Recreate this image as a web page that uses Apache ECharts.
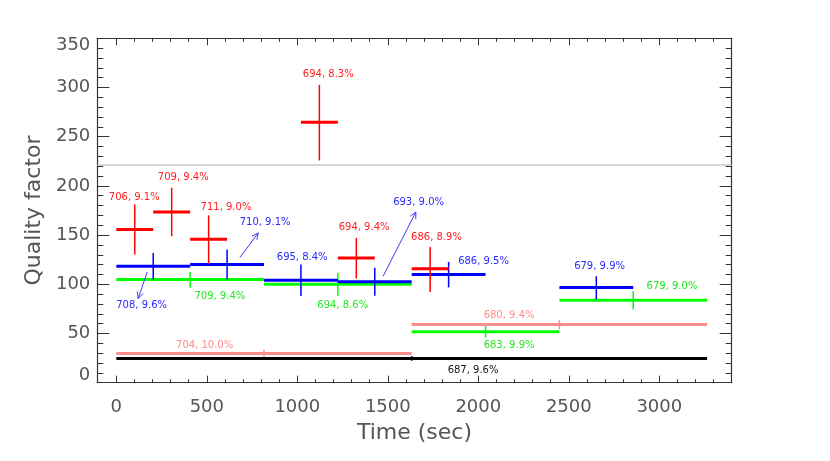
<!DOCTYPE html>
<html>
<head>
<meta charset="utf-8">
<script src="https://cdn.jsdelivr.net/npm/echarts@6/dist/echarts.min.js"></script>
<style>html,body{margin:0;padding:0;background:#fff}#c{width:830px;height:461px}</style>
</head>
<body>
<div id="c"></div>
<script>
// ---- data (time window start, end, quality factor, error low, error high) ----
const blackRows = [[0, 3264, 24.7, 22.3, 27.1]];
const pinkRows = [[0, 1632, 29.8, 26.4, 33.2], [1632, 3264, 59.2, 54.2, 63.6]];
const greenRows = [[0, 816, 104.9, 96.4, 112.6], [816, 1632, 100.1, 88.0, 111.6],
                   [1632, 2448, 51.7, 46.0, 57.8], [2448, 3264, 83.9, 74.5, 93.0]];
const blueRows = [[0, 408, 118.4, 104.9, 131.9], [408, 816, 120.1, 104.9, 135.3],
                  [816, 1224, 104.2, 88.0, 120.1], [1224, 1632, 102.5, 88.3, 116.7],
                  [1632, 2040, 110.0, 96.8, 122.8], [2448, 2856, 96.8, 84.6, 108.2]];
const redRows = [[0, 204, 155.6, 130.3, 181.0], [204, 408, 173.5, 148.8, 198.2],
                 [408, 612, 145.8, 121.1, 170.1], [1020, 1224, 264.8, 225.9, 302.7],
                 [1224, 1428, 126.8, 105.9, 147.1], [1632, 1836, 115.7, 92.3, 138.0]];

// annotation texts and their anchor points (data coordinates)
const blackText = ['687, 9.6%'];
const blackTextAt = [[1971, 12.9]];
const pinkText = ['704, 10.0%', '680, 9.4%'];
const pinkTextAt = [[488, 38.2], [2170, 68.0]];
const greenText = ['709, 9.4%', '694, 8.6%', '683, 9.9%', '679, 9.0%'];
const greenTextAt = [[572, 88.0], [1251, 78.5], [2170, 38.2], [3070, 98.1]];
const blueText = ['708, 9.6%', '710, 9.1%', '695, 8.4%', '693, 9.0%', '686, 9.5%', '679, 9.9%'];
const blueTextAt = [[140, 78.1], [822, 163.3], [1027, 127.8], [1670, 183.0], [2029, 122.8], [2670, 118.4]];
const redText = ['706, 9.1%', '709, 9.4%', '711, 9.0%', '694, 8.3%', '694, 9.4%', '686, 8.9%'];
const redTextAt = [[99, 188.1], [370, 208.4], [606, 178.0], [1171, 313.2], [1369, 158.0], [1769, 147.8]];

// arrows: from [x, y] to [x, y]
const blueArrows = [[171, 112.6, 121, 85.6], [683, 127.2, 784, 152.2], [1474, 108.2, 1655, 173.5]];

const threshold = 222;

// axes
const xMin = -105, xMax = 3400;
const xMajorTicks = [0, 500, 1000, 1500, 2000, 2500, 3000];
const xMinorTicks = Array.from({length: 34}, (_, i) => i * 100);
const yMin = 0, yMax = 350, yStep = 50;

// ---- rendering ----
const FONT = 'DejaVu Sans';
const AXC = '#333';
const LBL = '#555';

function crossSeries(rows, color, z) {
  return {
    type: 'custom', xAxisIndex: 0, yAxisIndex: 0, z: z,
    data: rows, encode: {x: [0, 1], y: [2, 3, 4]}, silent: true,
    renderItem: function (params, api) {
      const x1 = api.value(0), x2 = api.value(1), y = api.value(2), lo = api.value(3), hi = api.value(4);
      const a = api.coord([x1, y]), b = api.coord([x2, y]);
      const xc = (x1 + x2) / 2;
      const l = api.coord([xc, lo]), h = api.coord([xc, hi]);
      return {type: 'group', children: [
        {type: 'line', shape: {x1: a[0], y1: a[1], x2: b[0], y2: b[1]}, style: {stroke: color, lineWidth: 3}},
        {type: 'line', shape: {x1: l[0], y1: l[1], x2: h[0], y2: h[1]}, style: {stroke: color, lineWidth: 1.5}}
      ]};
    }
  };
}

function textSeries(points, texts, color, z) {
  return {
    type: 'custom', xAxisIndex: 0, yAxisIndex: 0, z: z, silent: true,
    data: points, encode: {x: 0, y: 1},
    renderItem: function (params, api) {
      const p = api.coord([api.value(0), api.value(1)]);
      return {type: 'text', x: p[0], y: p[1], style: {
        text: texts[params.dataIndex], fill: color, font: '10px "' + FONT + '"',
        align: 'center', verticalAlign: 'middle'}};
    }
  };
}

function arrowSeries(rows, color, z) {
  return {
    type: 'custom', xAxisIndex: 0, yAxisIndex: 0, z: z, silent: true,
    data: rows, encode: {x: [0, 2], y: [1, 3]},
    renderItem: function (params, api) {
      const a = api.coord([api.value(0), api.value(1)]);
      const b = api.coord([api.value(2), api.value(3)]);
      const ang = Math.atan2(b[1] - a[1], b[0] - a[0]);
      const L = 7, s = 0.45;
      const h1 = [b[0] - L * Math.cos(ang - s), b[1] - L * Math.sin(ang - s)];
      const h2 = [b[0] - L * Math.cos(ang + s), b[1] - L * Math.sin(ang + s)];
      const st = {stroke: color, lineWidth: 1};
      return {type: 'group', children: [
        {type: 'line', shape: {x1: a[0], y1: a[1], x2: b[0], y2: b[1]}, style: st},
        {type: 'polyline', shape: {points: [h1, b, h2]}, style: Object.assign({fill: null}, st)}
      ]};
    }
  };
}

function xAxisDef(pos, ticks, len, showLine, showLabel, extra) {
  return Object.assign({
    type: 'value', gridIndex: 0, position: pos, min: xMin, max: xMax,
    axisLine: {show: showLine, onZero: false, lineStyle: {color: AXC, width: 1.2}},
    axisTick: {show: true, inside: true, length: len, customValues: ticks, lineStyle: {color: AXC, width: 1}},
    axisLabel: showLabel ? {show: true, customValues: xMajorTicks, margin: 16, color: LBL,
      fontFamily: FONT, fontSize: 18, formatter: function (v) { return String(v); }} : {show: false},
    splitLine: {show: false}
  }, extra || {});
}

function yAxisDef(pos, showLabel, extra) {
  return Object.assign({
    type: 'value', gridIndex: 0, position: pos, min: yMin, max: yMax, interval: yStep,
    axisLine: {show: true, onZero: false, lineStyle: {color: AXC, width: 1.2}},
    axisTick: {show: true, inside: true, length: 12, lineStyle: {color: AXC, width: 1}},
    minorTick: {show: true, splitNumber: 5, length: 6, lineStyle: {color: AXC, width: 1}},
    axisLabel: showLabel ? {
      show: true, margin: 7, color: LBL, fontFamily: FONT, fontSize: 18,
      formatter: function (v) { return v === yMin ? '{lo|' + v + '}' : (v === yMax ? '{hi|' + v + '}' : String(v)); },
      rich: {
        lo: {padding: [0, 0, 14, 0], color: LBL, fontFamily: FONT, fontSize: 18},
        hi: {padding: [14, 0, 0, 0], color: LBL, fontFamily: FONT, fontSize: 18}
      }
    } : {show: false},
    splitLine: {show: false}, minorSplitLine: {show: false}
  }, extra || {});
}

const chart = echarts.init(document.getElementById('c'), null, {renderer: 'canvas'});
const option = {
  animation: false,
  backgroundColor: '#fff',
  grid: {left: 97.3, right: 98.3, top: 38.3, bottom: 78.3, containLabel: false},
  xAxis: [
    xAxisDef('bottom', xMajorTicks, 7, true, true, {
      name: 'Time (sec)', nameLocation: 'middle', nameGap: 40,
      nameTextStyle: {fontFamily: FONT, fontSize: 22, color: LBL}}),
    xAxisDef('bottom', xMinorTicks, 3.5, false, false),
    xAxisDef('top', xMajorTicks, 7, true, false),
    xAxisDef('top', xMinorTicks, 3.5, false, false)
  ],
  yAxis: [
    yAxisDef('left', true, {
      name: 'Quality factor', nameLocation: 'middle', nameGap: 52, nameRotate: 90,
      nameTextStyle: {fontFamily: FONT, fontSize: 22, color: LBL}}),
    yAxisDef('right', false)
  ],
  series: [
    Object.assign(crossSeries(blackRows, '#000000', 2), {
      markLine: {silent: true, symbol: ['none', 'none'], label: {show: false},
        lineStyle: {color: '#c8c8c8', width: 1.5, type: 'solid'}, data: [{yAxis: threshold}]}
    }),
    crossSeries(pinkRows, '#ff8c8c', 3),
    crossSeries(greenRows, '#00ff00', 4),
    crossSeries(blueRows, '#0000ff', 5),
    crossSeries(redRows, '#ff0000', 6),
    arrowSeries(blueArrows, '#3a3aff', 7),
    textSeries(blackTextAt, blackText, '#111111', 8),
    textSeries(pinkTextAt, pinkText, '#ff8c8c', 8),
    textSeries(greenTextAt, greenText, '#1ee81e', 8),
    textSeries(blueTextAt, blueText, '#2a2aff', 8),
    textSeries(redTextAt, redText, '#ff2020', 8)
  ]
};
chart.setOption(option);
</script>
</body>
</html>
